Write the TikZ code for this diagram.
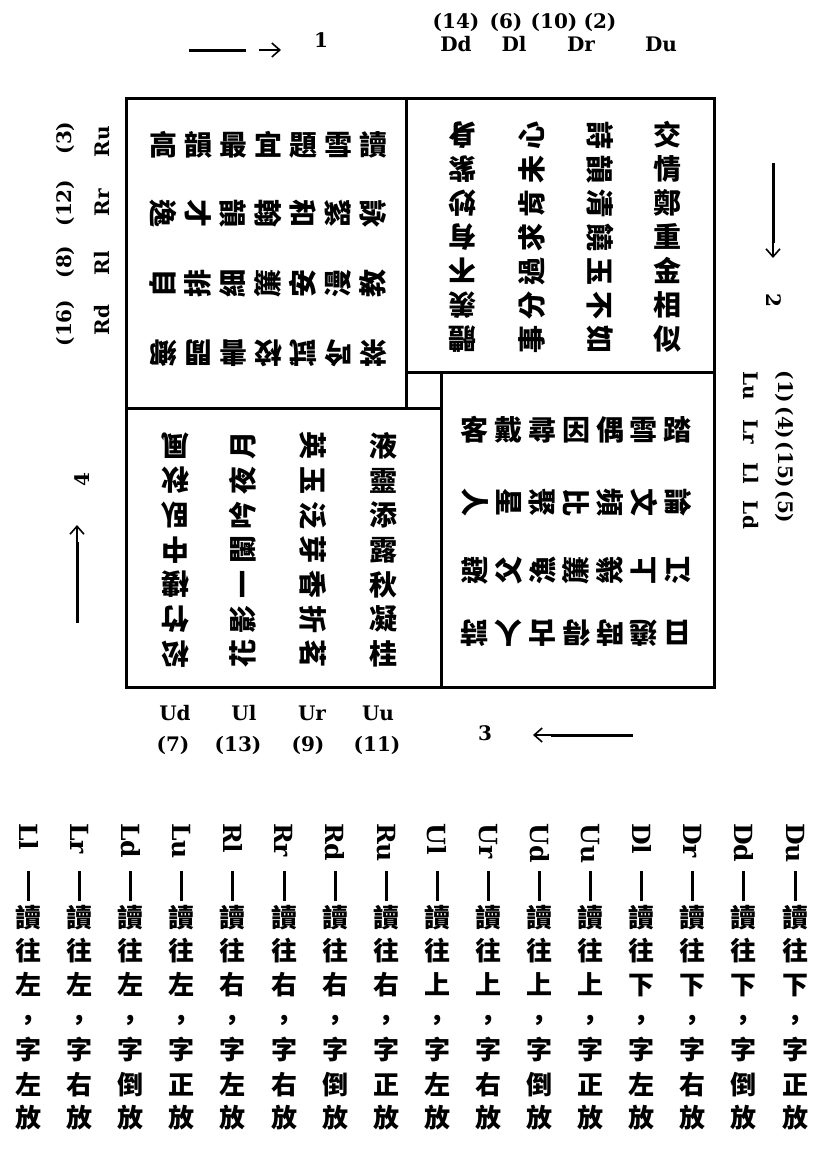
\documentclass[tikz,border=0pt]{standalone}
\usepackage{fontspec}
\newfontfamily\cjk{Noto Sans CJK TC}
\newfontfamily\lat{DejaVu Serif}
\usetikzlibrary{arrows.meta}
\begin{document}
\begin{tikzpicture}[x=1pt,y=-1pt,
  frame/.style={line width=3pt,line cap=rect},
  ch/.style={font=\cjk\bfseries\fontsize{28}{28}\selectfont,inner sep=0pt,text height=24.6pt,text depth=3.4pt},
  cu/.style={ch},
  cd/.style={ch,rotate=180},
  cr/.style={ch,rotate=-90},
  cl/.style={ch,rotate=90},
  lab/.style={font=\lat\bfseries\fontsize{20}{20}\selectfont,inner sep=0pt},
  labr/.style={lab,rotate=-90},
  labl/.style={lab,rotate=90},
  legch/.style={font=\cjk\bfseries\fontsize{26}{26}\selectfont,inner sep=0pt,text height=22.9pt,text depth=3.1pt},
  leglat/.style={font=\lat\bfseries\fontsize{25}{25}\selectfont,inner sep=0pt,rotate=-90,anchor=west},
  legdash/.style={line width=3pt},
  arrowline/.style={line width=3pt},
  arrowhead/.style={line width=1.6pt,-{Straight Barb[length=8pt,width=14pt]}},
]
\useasboundingbox (0,0) rectangle (814,1151);
\fill[white] (0,0) rectangle (814,1151);

% ---------- frame ----------
\coordinate (f1) at (126,98);
\coordinate (f2) at (714,687);
\coordinate (v1a) at (406,98);
\coordinate (v1b) at (406,408);
\coordinate (h1a) at (406,372);
\coordinate (h1b) at (714,372);
\coordinate (v2a) at (441,372);
\coordinate (v2b) at (441,687);
\coordinate (h2a) at (126,408);
\coordinate (h2b) at (441,408);
\draw[frame] (f1) rectangle (f2);
\draw[frame] (v1a) -- (v1b);
\draw[frame] (h1a) -- (h1b);
\draw[frame] (v2a) -- (v2b);
\draw[frame] (h2a) -- (h2b);

% ---------- top-left box (R rows) ----------
\foreach \c [count=\i] in {高,韻,最,宜,題,雪,讀} \node[cu] (ra\i) at ({128+35*\i},145) {\c};
\foreach \c [count=\i] in {逸,才,韻,翰,和,絮,詠} \node[cr] (rb\i) at ({128+35*\i},213) {\c};
\foreach \c [count=\i] in {自,排,細,簾,安,漫,教} \node[cl] (rc\i) at ({128+35*\i},283) {\c};
\foreach \c [count=\i] in {鄉,閒,書,校,試,吟,茶} \node[cd] (rd\i) at ({128+35*\i},353) {\c};

% ---------- top-right box (D columns) ----------
\foreach \c [count=\i] in {交,情,鄭,重,金,相,似} \node[cu] (da\i) at (667,{101+34*\i}) {\c};
\foreach \c [count=\i] in {詩,韻,清,饒,玉,不,如} \node[cr] (db\i) at (600,{101+34*\i}) {\c};
\foreach \c [count=\i] in {心,未,肯,求,過,分,事} \node[cl] (dc\i) at (532,{101+34*\i}) {\c};
\foreach \c [count=\i] in {身,紫,妙,有,不,羨,體} \node[cd] (dd\i) at (462,{101+34*\i}) {\c};

% ---------- bottom-left box (U columns) ----------
\foreach \c [count=\i] in {液,靈,添,露,秋,凝,桂} \node[cu] (ua\i) at (383,{411+34.7*\i}) {\c};
\foreach \c [count=\i] in {英,玉,泛,芽,香,折,茗} \node[cr] (ub\i) at (313,{411+34.7*\i}) {\c};
\foreach \c [count=\i] in {月,夜,吟,闌,一,影,花} \node[cl] (uc\i) at (243,{411+34.7*\i}) {\c};
\foreach \c [count=\i] in {風,秋,臥,中,樓,竹,松} \node[cd] (ud\i) at (175,{411+34.7*\i}) {\c};

% ---------- bottom-right box (L rows) ----------
\foreach \c [count=\i] in {客,戴,尋,因,偶,雪,踏} \node[cu] (la\i) at ({441+33.8*\i},430) {\c};
\foreach \c [count=\i] in {人,星,聚,比,頻,文,論} \node[cr] (lb\i) at ({441+33.8*\i},502) {\c};
\foreach \c [count=\i] in {避,父,漁,簾,幾,上,江} \node[cl] (lc\i) at ({441+33.8*\i},570) {\c};
\foreach \c [count=\i] in {詩,人,古,得,時,遶,日} \node[cd] (ld\i) at ({441+33.8*\i},633) {\c};

% ---------- side labels ----------
% top
\node[lab] (tn1) at (456,22) {(14)};
\node[lab] (tn2) at (506,22) {(6)};
\node[lab] (tn3) at (554,22) {(10)};
\node[lab] (tn4) at (600,22) {(2)};
\node[lab] (tl1) at (456,44) {Dd};
\node[lab] (tl2) at (514,44) {Dl};
\node[lab] (tl3) at (581,44) {Dr};
\node[lab] (tl4) at (661,44) {Du};
% right
\node[labr] (rn1) at (785,387) {(1)};
\node[labr] (rn2) at (785,423) {(4)};
\node[labr] (rn3) at (785,465) {(15)};
\node[labr] (rn4) at (785,507) {(5)};
\node[labr] (rl1) at (751,386) {Lu};
\node[labr] (rl2) at (751,432) {Lr};
\node[labr] (rl3) at (751,473) {Ll};
\node[labr] (rl4) at (751,515) {Ld};
% bottom
\node[lab] (bl1) at (175,713) {Ud};
\node[lab] (bl2) at (244,713) {Ul};
\node[lab] (bl3) at (312,713) {Ur};
\node[lab] (bl4) at (378,713) {Uu};
\node[lab] (bn1) at (173,745) {(7)};
\node[lab] (bn2) at (238,745) {(13)};
\node[lab] (bn3) at (308,745) {(9)};
\node[lab] (bn4) at (377,745) {(11)};
% left
\node[labl] (ll1) at (102,142) {Ru};
\node[labl] (ll2) at (102,203) {Rr};
\node[labl] (ll3) at (102,263) {Rl};
\node[labl] (ll4) at (102,320) {Rd};
\node[labl] (ln1) at (65,138) {(3)};
\node[labl] (ln2) at (65,203) {(12)};
\node[labl] (ln3) at (65,262) {(8)};
\node[labl] (ln4) at (65,323) {(16)};

% ---------- arrows ----------
\coordinate (a1s) at (189,50);
\coordinate (a1e) at (246,50);
\coordinate (a1h) at (259,50);
\coordinate (a1t) at (281,50);
\draw[arrowline] (a1s) -- (a1e);
\draw[arrowhead] (a1h) -- (a1t);
\node[lab] (n1) at (321,40) {1};

\coordinate (a2s) at (773,163);
\coordinate (a2e) at (773,243);
\coordinate (a2t) at (773,258);
\draw[arrowline] (a2s) -- (a2e);
\draw[arrowhead] (a2e) -- (a2t);
\node[labr] (n2) at (774,300) {2};

\coordinate (a3s) at (633,735);
\coordinate (a3e) at (551,735);
\coordinate (a3t) at (533,735);
\draw[arrowline] (a3s) -- (a3e);
\draw[arrowhead] (a3e) -- (a3t);
\node[lab] (n3) at (485,733) {3};

\coordinate (a4s) at (77,623);
\coordinate (a4e) at (77,542);
\coordinate (a4t) at (77,525);
\draw[arrowline] (a4s) -- (a4e);
\draw[arrowhead] (a4e) -- (a4t);
\node[labl] (n4) at (82,480) {4};

% ---------- legend ----------
\foreach \lab/\dir/\pos [count=\i] in {Du/下/正,Dd/下/倒,Dr/下/右,Dl/下/左,Uu/上/正,Ud/上/倒,Ur/上/右,Ul/上/左,Ru/右/正,Rd/右/倒,Rr/右/右,Rl/右/左,Lu/左/正,Ld/左/倒,Lr/左/右,Ll/左/左}{
  \pgfmathsetmacro\xx{795-51.1*(\i-1)}
  \node[leglat] (g\i) at (\xx,823) {\lab};
  \coordinate (gda\i) at (\xx,871);
  \coordinate (gdb\i) at (\xx,901);
  \draw[legdash] (gda\i) -- (gdb\i);
  \node[legch] (gc\i a) at (\xx,918) {讀};
  \node[legch] (gc\i b) at (\xx,951) {往};
  \node[legch] (gc\i c) at (\xx,985) {\dir};
  \node[legch] (gc\i d) at (\xx,1020) {，};
  \node[legch] (gc\i e) at (\xx,1050) {字};
  \node[legch] (gc\i f) at (\xx,1085) {\pos};
  \node[legch] (gc\i g) at (\xx,1118) {放};
}
\end{tikzpicture}
\end{document}
